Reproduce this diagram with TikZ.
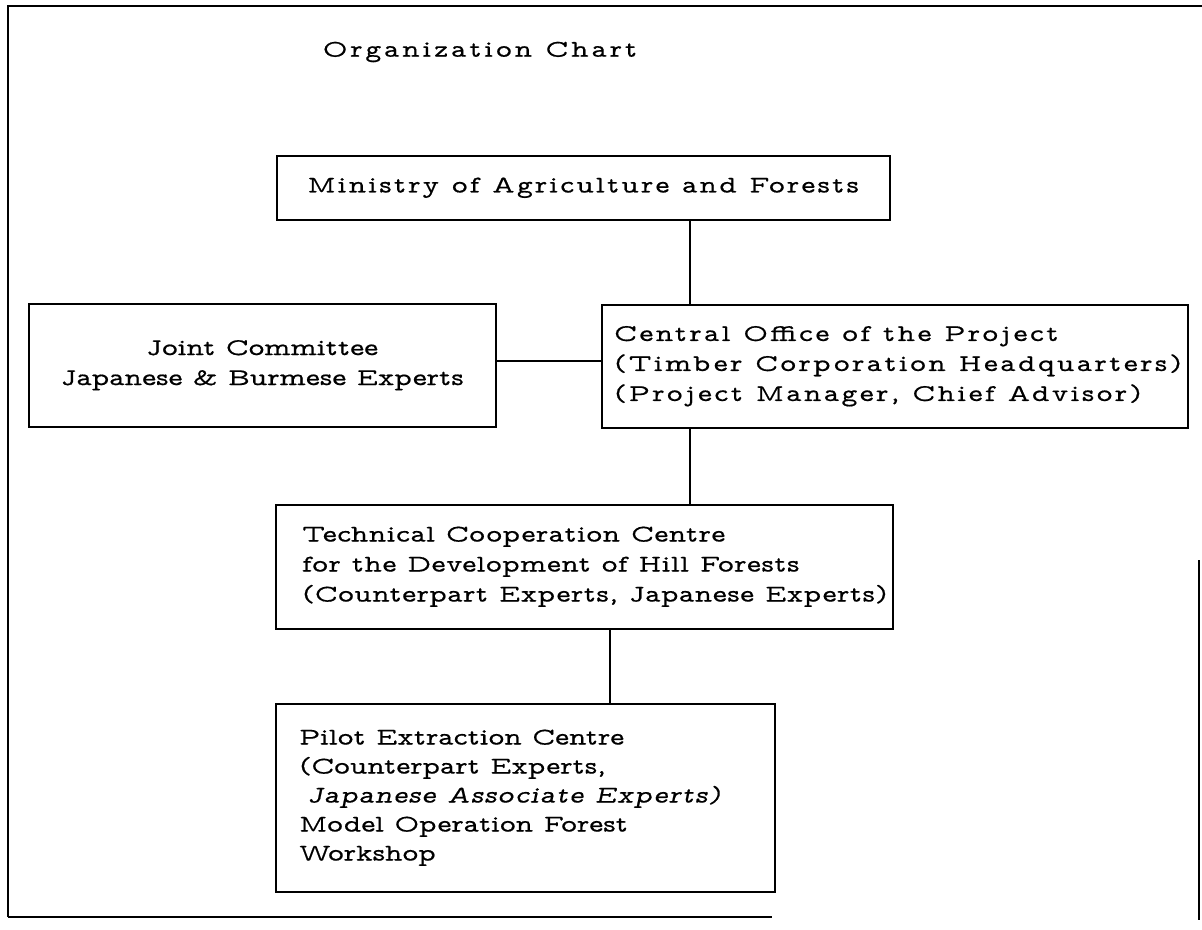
\documentclass[tikz,border=0pt]{standalone}
\usepackage{fontspec}
\newfontfamily\tw[ItalicFont=lmmonoprop10-oblique.otf, FakeStretch=1.25, FakeBold=0.6]{lmmonoprop10-regular.otf}
\newcommand{\twsize}{\fontsize{24}{30}\selectfont}
\begin{document}
\begin{tikzpicture}[x=1pt,y=-1pt,
  frame/.style={line width=1.6pt},
  box/.style={draw, line width=1.5pt, inner sep=0pt, anchor=north west},
  txt/.style={inner sep=0pt, font=\tw\twsize, align=left},
  ctxt/.style={font=\tw\twsize, align=center},
  link/.style={line width=1.5pt}]
\useasboundingbox (0,0) rectangle (1202,929);
% outer frame (as scanned)
\draw[frame] (8,917) -- (8,6) -- (1202,6);
\draw[frame] (8,917) -- (772,917);
\draw[frame] (1199,560) -- (1199,920);
% title
\node[txt, font=\tw\twsize\addfontfeatures{LetterSpace=12}] (title) at (480,52) {Organization Chart};
% boxes
\node[box, ctxt, font=\tw\twsize\addfontfeatures{LetterSpace=9}, minimum width=613, minimum height=64] (min) at (276,155) {Ministry of Agriculture and Forests};
\node[box, ctxt, minimum width=467, minimum height=123] (joint) at (28,303) {Joint Committee\\Japanese \& Burmese Experts};
\node[box, minimum width=586, minimum height=123] (cen) at (601,304) {};
\node[txt, font=\tw\twsize\addfontfeatures{LetterSpace=10}, anchor=west] (centxt) at ([xshift=13]cen.west) {Central Office of the Project\\(Timber Corporation Headquarters)\\(Project Manager, Chief Advisor)};
\node[box, minimum width=617, minimum height=124] (tech) at (275,504) {};
\node[txt, font=\tw\twsize\addfontfeatures{LetterSpace=2}, anchor=west] (techtxt) at ([xshift=27]tech.west) {Technical Cooperation Centre\\for the Development of Hill Forests\\(Counterpart Experts, Japanese Experts)};
\node[box, minimum width=499, minimum height=188] (pil) at (275,703) {};
\node[txt, anchor=west, font=\tw\fontsize{24}{29}\selectfont] (piltxt) at ([xshift=24]pil.west) {Pilot Extraction Centre\\(Counterpart Experts,\\\hspace*{8pt}{\itshape\addfontfeatures{LetterSpace=4}Japanese Associate Experts)}\\Model Operation Forest\\Workshop};
% connectors
\coordinate (ca) at (690,0);
\coordinate (cb) at (610,0);
\coordinate (hy) at (0,361);
\draw[link] (min.south -| ca) -- (cen.north -| ca);
\draw[link] (joint.east |- hy) -- (cen.west |- hy);
\draw[link] (cen.south -| ca) -- (tech.north -| ca);
\draw[link] (tech.south -| cb) -- (pil.north -| cb);
\end{tikzpicture}
\end{document}
